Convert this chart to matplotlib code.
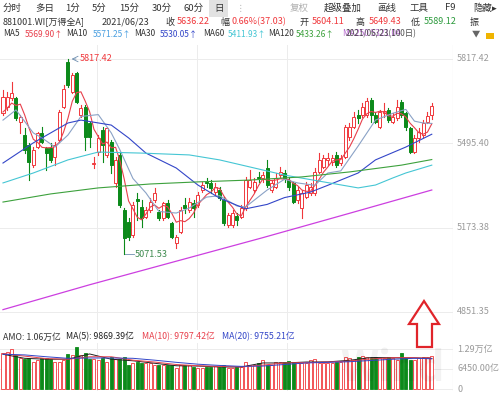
import matplotlib
matplotlib.use("Agg")
import matplotlib.pyplot as plt
import matplotlib.patches as mpatches
import matplotlib.transforms as mtrans

plt.rcParams['font.family'] = ['Noto Sans CJK SC', 'DejaVu Sans']

# daily OHLC of 881001.WI over the last 100 trading days up to 2021/06/23
opens = [5610, 5635, 5667, 5667, 5578, 5527, 5489, 5413, 5483, 5534,
         5476, 5476, 5444, 5508, 5635, 5807, 5693, 5763, 5604, 5635,
         5572, 5417, 5463, 5546, 5451, 5502, 5343, 5451, 5241, 5196,
         5145, 5283, 5253, 5215, 5241, 5279, 5234, 5209, 5269, 5190,
         5113, 5158, 5260, 5241, 5266, 5260, 5317, 5349, 5343, 5311,
         5317, 5279, 5183, 5183, 5219, 5215, 5247, 5330, 5317, 5368,
         5362, 5400, 5317, 5330, 5374, 5381, 5355, 5343, 5279, 5247,
         5292, 5304, 5304, 5387, 5406, 5432, 5425, 5451, 5419, 5444,
         5518, 5559, 5604, 5604, 5604, 5661, 5604, 5559, 5610, 5623,
         5578, 5591, 5654, 5610, 5553, 5463, 5514, 5527, 5578, 5604.11]
highs = [5699, 5693, 5731, 5674, 5604, 5553, 5495, 5483, 5540, 5559,
         5483, 5495, 5502, 5623, 5718, 5817.42, 5763, 5769, 5642, 5642,
         5578, 5444, 5527, 5559, 5559, 5508, 5444, 5457, 5247, 5209,
         5272, 5304, 5279, 5253, 5285, 5323, 5241, 5272, 5279, 5196,
         5145, 5253, 5285, 5285, 5279, 5311, 5349, 5362, 5355, 5343,
         5330, 5292, 5228, 5241, 5228, 5260, 5368, 5393, 5362, 5387,
         5387, 5432, 5355, 5381, 5406, 5393, 5368, 5349, 5330, 5317,
         5349, 5343, 5400, 5457, 5451, 5457, 5451, 5463, 5451, 5565,
         5572, 5616, 5623, 5648, 5667, 5667, 5616, 5623, 5648, 5629,
         5610, 5661, 5661, 5616, 5559, 5527, 5553, 5584, 5616, 5649.43]
lows = [5604, 5623, 5661, 5584, 5534, 5457, 5355, 5406, 5476, 5495,
        5393, 5425, 5413, 5502, 5629, 5712, 5686, 5648, 5597, 5470,
        5483, 5400, 5451, 5425, 5444, 5381, 5330, 5253, 5071.53, 5126,
        5139, 5202, 5177, 5209, 5234, 5272, 5202, 5202, 5209, 5132,
        5094, 5152, 5228, 5234, 5215, 5253, 5311, 5330, 5304, 5298,
        5279, 5183, 5177, 5177, 5183, 5209, 5241, 5323, 5311, 5349,
        5349, 5330, 5311, 5323, 5368, 5349, 5317, 5266, 5266, 5209,
        5285, 5298, 5298, 5381, 5400, 5413, 5413, 5406, 5413, 5438,
        5508, 5553, 5572, 5597, 5597, 5578, 5572, 5553, 5597, 5578,
        5572, 5584, 5597, 5546, 5457, 5457, 5502, 5518, 5572, 5589.12]
closes = [5674, 5674, 5689, 5591, 5597, 5470, 5425, 5470, 5534, 5502,
          5457, 5432, 5489, 5616, 5702, 5718, 5756, 5654, 5629, 5521,
          5521, 5422, 5514, 5489, 5553, 5413, 5432, 5260, 5132, 5139,
          5260, 5276, 5209, 5241, 5272, 5304, 5209, 5266, 5215, 5139,
          5139, 5241, 5247, 5272, 5247, 5298, 5336, 5343, 5323, 5330,
          5285, 5190, 5222, 5228, 5202, 5247, 5355, 5355, 5349, 5362,
          5374, 5336, 5343, 5362, 5387, 5362, 5330, 5272, 5317, 5304,
          5336, 5330, 5387, 5432, 5438, 5438, 5438, 5413, 5438, 5559,
          5559, 5597, 5591, 5635, 5658, 5604, 5578, 5616, 5619, 5584,
          5597, 5635, 5604, 5559, 5463, 5514, 5540, 5572, 5599.19, 5636.22]

# turnover (亿元)
volumes = [11500, 12040, 12790, 10970, 9890, 9570, 9890, 8820, 9350, 9890,
           9890, 9570, 8820, 8820, 9350, 11290, 10970, 13650, 10970, 11500,
           9570, 9570, 9350, 9890, 8820, 10210, 9570, 9570, 10210, 7740,
           8280, 8820, 8280, 8280, 8280, 7740, 7740, 7740, 7740, 7740,
           6670, 7740, 7740, 7740, 7200, 6670, 6670, 7200, 7200, 7420,
           7200, 7740, 6670, 6670, 7200, 7200, 8820, 7740, 7740, 8280,
           9350, 7740, 7740, 8820, 8820, 8820, 9140, 8820, 8820, 8280,
           8280, 9350, 9570, 8280, 8280, 8280, 8280, 8820, 8820, 10430,
           9890, 9350, 10430, 10640, 10430, 9890, 10430, 9890, 9890, 10430,
           9890, 9350, 11720, 9890, 9350, 9350, 9890, 10430, 10210, 10600]

# moving averages
ma5 = [5615, 5630, 5649, 5640, 5645, 5604, 5554, 5511, 5499, 5480,
       5478, 5479, 5483, 5499, 5539, 5591, 5656, 5689, 5692, 5656,
       5616, 5549, 5521, 5493, 5500, 5478, 5480, 5429, 5358, 5275,
       5245, 5213, 5203, 5225, 5252, 5260, 5247, 5258, 5253, 5227,
       5194, 5200, 5196, 5208, 5229, 5261, 5280, 5299, 5309, 5326,
       5323, 5294, 5270, 5251, 5225, 5218, 5251, 5277, 5302, 5334,
       5359, 5355, 5353, 5355, 5360, 5358, 5357, 5343, 5334, 5317,
       5312, 5312, 5335, 5358, 5385, 5405, 5427, 5432, 5433, 5457,
       5481, 5513, 5549, 5588, 5608, 5617, 5613, 5618, 5615, 5600,
       5599, 5610, 5608, 5596, 5572, 5555, 5536, 5530, 5538, 5569.90]
ma10_idx = [0, 3, 7, 9, 12, 15, 18, 22, 25, 27, 30, 33, 36, 40, 43, 47, 50, 54, 56,
            61, 65, 68, 72, 75, 78, 82, 86, 90, 93, 95, 97, 99]
ma10_val = [5584, 5623, 5535, 5516, 5481, 5527, 5598, 5605, 5535, 5470, 5361, 5306,
            5235, 5229, 5248, 5290, 5295, 5256, 5252, 5317, 5358, 5344, 5335, 5382,
            5390, 5485, 5584, 5610, 5625, 5580, 5573, 5571.25]
ma30_idx = [0, 7, 15, 18, 25, 29, 33, 40, 45, 50, 56, 61, 65, 71, 75, 82, 86, 93, 99]
ma30_val = [5420, 5497, 5573, 5584, 5565, 5516, 5458, 5401, 5336, 5286, 5245, 5262,
            5288, 5309, 5335, 5382, 5432, 5481, 5530.05]
ma60_idx = [0, 7, 15, 22, 32, 43, 50, 57, 65, 74, 82, 86, 90, 93, 99]
ma60_val = [5344, 5382, 5432, 5462, 5458, 5451, 5432, 5405, 5374, 5348, 5325, 5336,
            5363, 5382, 5411.93]
ma120_idx = [0, 11, 22, 34, 45, 57, 69, 80, 92, 99]
ma120_val = [5271, 5302, 5325, 5340, 5348, 5355, 5367, 5386, 5412, 5433.26]
ma250_idx = [0, 20, 40, 60, 80, 99]
ma250_val = [4860, 4955, 5045, 5135, 5228, 5317]

vol_ma_idx = [0, 5, 10, 15, 20, 25, 30, 35, 40, 45, 50, 55, 60, 65, 70, 75, 80, 85, 90, 95, 99]
vol_ma5 = [11200, 9900, 9600, 9600, 11300, 9600, 9100, 8300, 7500, 7400, 7100, 7100,
           8400, 8400, 8700, 8750, 9250, 10150, 10100, 10050, 9869.39]
vol_ma10 = [11400, 10600, 9800, 9600, 10400, 10400, 9300, 8700, 7900, 7500, 7300, 7100,
            7700, 8400, 8500, 8700, 9000, 9700, 10100, 10100, 9797.42]
vol_ma20 = [11200, 11000, 10400, 9900, 10000, 10000, 9900, 9300, 8600, 8000, 7600, 7300,
            7400, 7900, 8400, 8600, 8800, 9200, 9600, 9900, 9755.21]

price_ticks = [5817.42, 5495.40, 5173.38, 4851.35]
vol_ticks = [12900, 6450, 0]
vol_tick_labels = ['1.29万亿', '6450.00亿', '0']

RED = '#f0383c'
GREEN = '#0c8a1a'
GRID = '#ececec'
AXIS_TXT = '#9a9a9a'

W, H = 500, 394


def fx(px):
    return px / W


def fy(py):
    return 1 - py / H


fig = plt.figure(figsize=(5.0, 3.94), dpi=100)
fig.patch.set_facecolor('white')

# ---- price panel
ax = fig.add_axes([0, fy(330), 453 / W, (330 - 45) / H])
ax.set_xlim(-0.69, 103.9)
ax.set_ylim(4782.2, 5870.9)
for s in ax.spines.values():
    s.set_visible(False)
ax.set_xticks([])
ax.set_yticks([])
for t in price_ticks:
    ax.axhline(t, color=GRID, lw=0.7, zorder=0)
for gx in [21.7, 44.8, 65.6]:
    ax.axvline(gx, color=GRID, lw=0.7, zorder=0)
ax.axvline(103.9, color=GRID, lw=0.9, zorder=0)

bw = 0.7
for i in range(len(closes)):
    o, h, l, c = opens[i], highs[i], lows[i], closes[i]
    up = c >= o
    col = RED if up else GREEN
    top, bot = max(o, c), min(o, c)
    ax.plot([i, i], [top, h], color=col, lw=0.8, zorder=3)
    ax.plot([i, i], [l, bot], color=col, lw=0.8, zorder=3)
    ax.add_patch(mpatches.Rectangle((i - bw / 2, bot), bw, max(top - bot, 1.5),
                                    facecolor='white' if up else col,
                                    edgecolor=col, lw=0.7, zorder=4))

ax.plot(range(len(ma5)), ma5, color='#e8404c', lw=0.8, zorder=5)
ax.plot(ma10_idx, ma10_val, color='#8aa2c6', lw=0.8, zorder=5)
ax.plot(ma30_idx, ma30_val, color='#3346c8', lw=0.8, zorder=5)
ax.plot(ma60_idx, ma60_val, color='#45c6d4', lw=0.8, zorder=5)
ax.plot(ma120_idx, ma120_val, color='#3da13d', lw=0.8, zorder=5)
ax.plot(ma250_idx, ma250_val, color='#cc3fe0', lw=0.9, zorder=5)

trans_r = mtrans.blended_transform_factory(ax.transAxes, ax.transData)
for t in price_ticks:
    ax.text(1.009, t, f'{t:.2f}', transform=trans_r, ha='left', va='center',
            fontsize=6.5, color=AXIS_TXT)

# high / low markers
hi_i = highs.index(max(highs))
lo_i = lows.index(min(lows))
ax.annotate('', xy=(hi_i + 0.2, max(highs)), xytext=(hi_i + 2.5, max(highs)),
            arrowprops=dict(arrowstyle='->', color='#6f8fb0', lw=0.6))
ax.text(hi_i + 2.6, max(highs), f'{max(highs):.2f}', color=RED, fontsize=6.5,
        ha='left', va='center')
ax.plot([lo_i, lo_i + 2.2], [min(lows), min(lows)], color='#6f8fb0', lw=0.6)
ax.text(lo_i + 2.4, min(lows), f'{min(lows):.2f}', color='#3d8a4e', fontsize=6.5,
        ha='left', va='center')

# ---- turnover panel
vx = fig.add_axes([0, fy(391), 453 / W, (391 - 343) / H])
vx.set_xlim(-0.69, 103.9)
vx.set_ylim(-645, 14835)
for s in vx.spines.values():
    s.set_visible(False)
vx.set_xticks([])
vx.set_yticks([])
for t in vol_ticks:
    vx.axhline(t, color=GRID, lw=0.7, zorder=0)
for gx in [21.7, 44.8, 65.6]:
    vx.axvline(gx, color=GRID, lw=0.7, zorder=0)
vx.axvline(103.9, color=GRID, lw=0.9, zorder=0)
for i, v in enumerate(volumes):
    up = closes[i] >= opens[i]
    col = RED if up else GREEN
    vx.add_patch(mpatches.Rectangle((i - bw / 2, 0), bw, v,
                                    facecolor='white' if up else col,
                                    edgecolor=col, lw=0.6, zorder=3))
vx.plot(vol_ma_idx, vol_ma5, color='#222222', lw=0.7, zorder=5)
vx.plot(vol_ma_idx, vol_ma10, color='#e8404c', lw=0.7, zorder=5)
vx.plot(vol_ma_idx, vol_ma20, color='#3346c8', lw=0.7, zorder=5)
trans_v = mtrans.blended_transform_factory(vx.transAxes, vx.transData)
for t, lab in zip(vol_ticks, vol_tick_labels):
    vx.text(1.009, t, lab, transform=trans_v, ha='left', va='center',
            fontsize=6.5, color=AXIS_TXT)

fig.text(fx(392), fy(370), 'Wind', fontsize=30, fontweight='bold', color='#000000',
         alpha=0.05, ha='center', va='center')

# ---- header rows
row1 = [('分时', 3), ('多日', 35), ('1分', 65), ('5分', 92), ('15分', 119),
        ('30分', 152), ('60分', 184)]
fig.patches.append(mpatches.Rectangle((fx(209), fy(17)), 19 / W, 17 / H,
                                      transform=fig.transFigure, facecolor='#e2e2e2',
                                      edgecolor='none', zorder=0))
for s, x in row1:
    fig.text(fx(x), fy(8), s, fontsize=6.8, color='#333333', va='center')
fig.text(fx(214), fy(8), '日', fontsize=6.8, color='#333333', va='center')
fig.text(fx(236), fy(8), '⋮', fontsize=6.8, color='#bbbbbb', va='center')
fig.text(fx(290), fy(8), '复权', fontsize=6.8, color='#b0b0b0', va='center')
for s, x in [('超级叠加', 324), ('画线', 377), ('工具', 409), ('F9', 445), ('隐藏▸', 473)]:
    fig.text(fx(x), fy(8), s, fontsize=6.8, color='#333333', va='center')

row2 = [('881001.WI[万得全A]', 3, '#333333'), ('2021/06/23', 102, '#333333'),
        ('收', 165, '#333333'), ('5636.22', 177, RED), ('幅', 220, '#333333'),
        ('0.66%(37.03)', 231, RED), ('开', 299, '#333333'), ('5604.11', 312, RED),
        ('高', 356, '#333333'), ('5649.43', 369, RED), ('低', 411, '#333333'),
        ('5589.12', 424, '#2c9a3c'), ('振', 470, '#333333')]
for s, x, c in row2:
    fig.text(fx(x), fy(22), s, fontsize=6.5, color=c, va='center')

row3 = [('MA5', 3, '#333333'), ('5569.90↑', 25, '#e8404c'),
        ('MA10', 66, '#333333'), ('5571.25↑', 93, '#4a9fe0'),
        ('MA30', 134, '#333333'), ('5530.05↑', 160, '#3346c8'),
        ('MA60', 203, '#333333'), ('5411.93↑', 228, '#45c6d4'),
        ('MA120', 268, '#333333'), ('5433.26↑', 296, '#3da13d')]
for s, x, c in row3:
    fig.text(fx(x), fy(34), s, fontsize=6.0, color=c, va='center')
# in the screenshot these two header texts are drawn on top of each other
fig.text(fx(343), fy(34), 'MA250 5321.04', fontsize=6.0, color='#a040c0', va='center',
         alpha=0.8)
fig.text(fx(346), fy(34), '2021/06/23(100日)', fontsize=6.0, color='#333333',
         va='center', alpha=0.85)
fig.text(fx(472), fy(34), '▼', fontsize=6, color='#666666', va='center')
fig.patches.append(mpatches.Rectangle((fx(486), fy(39)), 8 / W, 6 / H,
                                      transform=fig.transFigure, facecolor='#f0b400',
                                      edgecolor='none'))

fig.text(fx(3), fy(337), 'AMO: 1.06万亿', fontsize=6.3, color='#333333', va='center')
fig.text(fx(66), fy(337), 'MA(5): 9869.39亿', fontsize=6.3, color='#222222', va='center')
fig.text(fx(142), fy(337), 'MA(10): 9797.42亿', fontsize=6.3, color='#e8404c', va='center')
fig.text(fx(222), fy(337), 'MA(20): 9755.21亿', fontsize=6.3, color='#3346c8', va='center')

# hollow red up-arrow drawn on the screenshot
arrow = [(424, 301), (439, 324), (432, 324), (432, 347), (417, 347), (417, 324), (409, 324)]
fig.patches.append(mpatches.Polygon([(fx(x), fy(y)) for x, y in arrow], closed=True,
                                    transform=fig.transFigure, facecolor='none',
                                    edgecolor='#e0242a', lw=1.6, zorder=10))

fig.savefig('out.png', dpi=100)
